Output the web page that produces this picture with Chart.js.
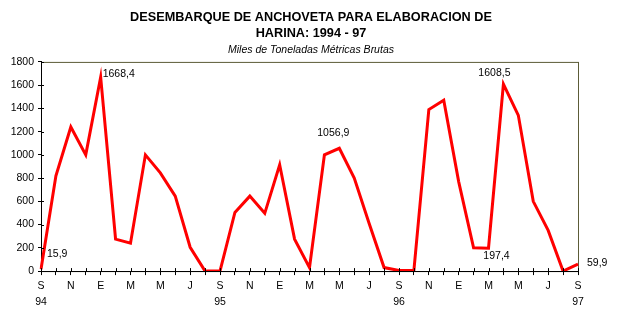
<!DOCTYPE html>
<html>
<head>
<meta charset="utf-8">
<script src="https://cdn.jsdelivr.net/npm/chart.js@4/dist/chart.umd.min.js"></script>
<style>
  html, body { margin:0; padding:0; background:#fff; }
  #wrap { width:619px; height:330px; }
</style>
</head>
<body>
<div id="wrap"><canvas id="chart" width="619" height="330"></canvas></div>
<script>
// monthly landings, Sep 1994 .. Sep 1997 (thousand tonnes)
const monthLetters = ['S','','N','','E','','M','','M','','J','',
                      'S','','N','','E','','M','','M','','J','',
                      'S','','N','','E','','M','','M','','J','',
                      'S'];
const yearLabels = ['94','','','','','','','','','','','',
                    '95','','','','','','','','','','','',
                    '96','','','','','','','','','','','',
                    '97'];
const landings = [15.9, 820, 1240, 1000, 1668.4, 275, 240, 1000, 845, 645, 205, 0,
                  0, 505, 645, 497, 915, 275, 30, 1000, 1056.9, 800, 410, 30,
                  5, 8, 1390, 1470, 770, 200, 197.4, 1608.5, 1340, 600, 350, 0,
                  59.9];
const yTicks = [0, 200, 400, 600, 800, 1000, 1200, 1400, 1600, 1800];
// which points get a value label
const labelledPoints = [0, 4, 20, 31, 30, 36];

const FONT = 'Arial, "Liberation Sans", sans-serif';

// label placement relative to the point
const labelPos = {
  0:  {dx: 6,  dy: -15, align: 'left'},
  4:  {dx: 2,  dy: -3,  align: 'left'},
  20: {dx: -6, dy: -15, align: 'center'},
  31: {dx: -9, dy: -11, align: 'center'},
  30: {dx: 8,  dy: 8,   align: 'center'},
  36: {dx: 9,  dy: -1,  align: 'left'}
};

const frame = {
  id: 'frame',
  beforeDraw(chart){
    const {ctx, chartArea:a} = chart;
    ctx.save();
    ctx.strokeStyle = '#5c5c38';
    ctx.lineWidth = 1;
    ctx.strokeRect(a.left + 0.5, a.top + 0.5, a.right - a.left, a.bottom - a.top);
    ctx.restore();
  },
  afterDraw(chart){
    // short inner tick marks crossing both axes
    const {ctx, chartArea:a, scales} = chart;
    ctx.save();
    ctx.strokeStyle = '#000';
    ctx.lineWidth = 1;
    ctx.beginPath();
    scales.x.ticks.forEach((t, i) => {
      const x = Math.round(scales.x.getPixelForTick(i)) + 0.5;
      ctx.moveTo(x, a.bottom);
      ctx.lineTo(x, a.bottom - 3);
    });
    scales.y.ticks.forEach((t, i) => {
      const y = Math.round(scales.y.getPixelForTick(i)) + 0.5;
      ctx.moveTo(a.left, y);
      ctx.lineTo(a.left + 3, y);
    });
    ctx.stroke();
    ctx.restore();
  }
};

const valueLabels = {
  id: 'valueLabels',
  afterDatasetsDraw(chart){
    const {ctx} = chart;
    const meta = chart.getDatasetMeta(0);
    ctx.save();
    ctx.font = '10.5px ' + FONT;
    ctx.fillStyle = '#000';
    ctx.textBaseline = 'middle';
    labelledPoints.forEach(i => {
      const p = meta.data[i];
      const pos = labelPos[i];
      ctx.textAlign = pos.align;
      const txt = landings[i].toFixed(1).replace('.', ',');
      ctx.fillText(txt, p.x + pos.dx, p.y + pos.dy);
    });
    ctx.restore();
  }
};

new Chart(document.getElementById('chart'), {
  type: 'line',
  data: {
    labels: monthLetters.map((m, i) => i),
    datasets: [{
      data: landings,
      borderColor: '#ff0000',
      borderWidth: 3,
      pointRadius: 0,
      tension: 0,
      fill: false
    }]
  },
  options: {
    responsive: false,
    animation: false,
    layout: { padding: { left: 3, right: 0, top: 0, bottom: 17 } },
    plugins: {
      legend: { display: false },
      tooltip: { enabled: false },
      title: {
        display: true,
        text: ['DESEMBARQUE DE ANCHOVETA PARA ELABORACION DE', 'HARINA: 1994 - 97'],
        color: '#000',
        font: { family: FONT, size: 12.7, weight: 'bold', lineHeight: 1.27 },
        padding: { top: 9, bottom: 0 }
      },
      subtitle: {
        display: true,
        text: 'Miles de Toneladas Métricas Brutas',
        color: '#000',
        font: { family: FONT, size: 10.5, style: 'italic', lineHeight: 1.3 },
        padding: { top: 2, bottom: 5 }
      }
    },
    scales: {
      x: {
        type: 'category',
        offset: false,
        grid: { display: true, drawOnChartArea: false, drawTicks: true, tickLength: 4, color: '#000' },
        border: { display: true, color: '#000', width: 1 },
        ticks: {
          autoSkip: false,
          maxRotation: 0,
          color: '#000',
          padding: 3,
          font: { family: FONT, size: 10.5, lineHeight: 1.52 },
          callback: (v, i) => yearLabels[i] ? [monthLetters[i], yearLabels[i]] : monthLetters[i]
        }
      },
      y: {
        min: 0,
        max: 1800,
        afterBuildTicks: s => { s.ticks = yTicks.map(v => ({value: v})); },
        afterFit: s => { s.width = 38; },
        grid: { display: true, drawOnChartArea: false, drawTicks: true, tickLength: 3, color: '#000' },
        border: { display: true, color: '#000', width: 1 },
        ticks: {
          color: '#000',
          padding: 4,
          font: { family: FONT, size: 10.5 },
          callback: v => String(v)
        }
      },
      // empty right-hand axis, only reserves room for the "59,9" label
      yRight: {
        position: 'right',
        min: 0,
        max: 1800,
        afterFit: s => { s.width = 41; },
        grid: { display: false },
        border: { display: false },
        ticks: { display: false }
      }
    }
  },
  plugins: [frame, valueLabels]
});
</script>
</body>
</html>
